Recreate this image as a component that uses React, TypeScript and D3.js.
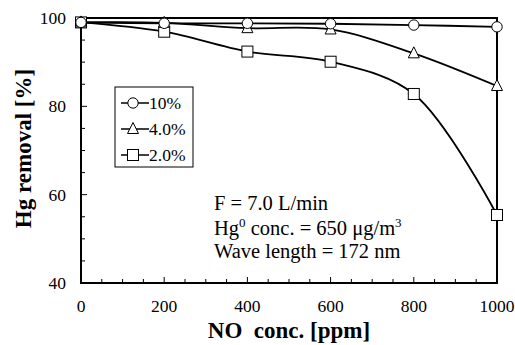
import React from 'react';
import * as d3 from 'd3';

const noConc = [0, 200, 400, 600, 800, 1000];
const series10 = [99.0, 98.8, 98.8, 98.7, 98.4, 98.0];
const series4 = [99.0, 98.9, 97.7, 97.4, 92.0, 84.6];
const series2 = [99.0, 96.9, 92.4, 90.1, 82.8, 55.4];
const seriesNames = ['10%', '4.0%', '2.0%'];
const xTicks = [0, 200, 400, 600, 800, 1000];
const yTicks = [40, 60, 80, 100];

const width = 515;
const height = 345;
const margin = { top: 18, right: 18, bottom: 62, left: 81 };
const innerW = width - margin.left - margin.right;
const innerH = height - margin.top - margin.bottom;

const x = d3.scaleLinear().domain([0, 1000]).range([0, innerW]);
const y = d3.scaleLinear().domain([40, 100]).range([innerH, 0]);

const line = d3
  .line<number>()
  .x((_, i) => x(noConc[i]))
  .y(d => y(d))
  .curve(d3.curveCatmullRom.alpha(0.5));

const font = 'Liberation Serif, DejaVu Serif, serif';

const Marker = ({ kind, cx, cy }: { kind: string; cx: number; cy: number }) => {
  if (kind === 'circle') return <circle cx={cx} cy={cy} r={5.2} fill="#fff" stroke="#000" strokeWidth={1} />;
  if (kind === 'tri')
    return (
      <path
        d={`M${cx},${cy - 6.5} L${cx + 5.5},${cy + 4.5} L${cx - 5.5},${cy + 4.5} Z`}
        fill="#fff"
        stroke="#000"
        strokeWidth={1}
      />
    );
  return <rect x={cx - 5.5} y={cy - 5.5} width={11} height={11} fill="#fff" stroke="#000" strokeWidth={1} />;
};

const allSeries = [
  { values: series2, kind: 'square' },
  { values: series4, kind: 'tri' },
  { values: series10, kind: 'circle' },
];
const legendKinds = ['circle', 'tri', 'square'];

export default function App() {
  const minorX = d3.range(0, 1001, 50);
  const minorY = d3.range(40, 101, 5);
  return (
    <svg width={width} height={height} fontFamily={font} style={{ position: 'absolute', left: 0, top: 0 }}>
      <rect width={width} height={height} fill="#fff" />
      <g transform={`translate(${margin.left},${margin.top})`} fontFamily={font}>
        {/* ticks */}
        {minorX.map(t => (
          <line key={`xt${t}`} x1={x(t)} x2={x(t)} y1={innerH} y2={innerH - (t % 200 === 0 ? 6 : 4)} stroke="#000" strokeWidth={1} />
        ))}
        {minorY.map(t => (
          <line key={`yt${t}`} x1={0} x2={t % 20 === 0 ? 6 : 4} y1={y(t)} y2={y(t)} stroke="#000" strokeWidth={1} />
        ))}
        <rect x={0} y={0} width={innerW} height={innerH} fill="none" stroke="#000" strokeWidth={2} />

        {/* lines */}
        {allSeries.map((s, i) => (
          <path key={`l${i}`} d={line(s.values) || ''} fill="none" stroke="#000" strokeWidth={1.8} />
        ))}
        {allSeries.map((s, i) =>
          s.values.map((v, j) => <Marker key={`m${i}-${j}`} kind={s.kind} cx={x(noConc[j])} cy={y(v)} />)
        )}

        {/* tick labels */}
        {xTicks.map(t => (
          <text key={`xl${t}`} x={x(t)} y={innerH + 29} textAnchor="middle" fontSize={17.5}>
            {t}
          </text>
        ))}
        {yTicks.map(t => (
          <text key={`yl${t}`} x={-15} y={y(t) + 6} textAnchor="end" fontSize={17.5}>
            {t}
          </text>
        ))}

        {/* legend */}
        <g transform="translate(34,69)">
          <rect x={0} y={0} width={78} height={80} fill="#fff" stroke="#000" strokeWidth={1} />
          {seriesNames.map((n, i) => (
            <g key={n} transform={`translate(0,${16 + i * 26})`}>
              <line x1={6} x2={34} y1={0} y2={0} stroke="#000" strokeWidth={1.5} />
              <Marker kind={legendKinds[i]} cx={18} cy={0} />
              <text x={34} y={6} fontSize={17.5}>
                {n}
              </text>
            </g>
          ))}
        </g>

        {/* annotation */}
        <g fontSize={20.5}>
          <text x={133} y={192}>F = 7.0 L/min</text>
          <text x={133} y={217}>
            Hg<tspan dy={-8} fontSize={13}>0</tspan>
            <tspan dy={8}> conc. = 650 μg/m</tspan>
            <tspan dy={-8} fontSize={13}>3</tspan>
          </text>
          <text x={133} y={240}>Wave length = 172 nm</text>
        </g>

        {/* axis titles */}
        <text x={innerW / 2} y={innerH + 55} textAnchor="middle" fontSize={23} fontWeight="bold">
          {'NO\u00a0\u00a0conc. [ppm]'}
        </text>
        <text
          transform={`translate(${-50},${innerH / 2 - 2}) rotate(-90)`}
          textAnchor="middle"
          fontSize={23}
          fontWeight="bold"
        >
          Hg removal [%]
        </text>
      </g>
    </svg>
  );
}
